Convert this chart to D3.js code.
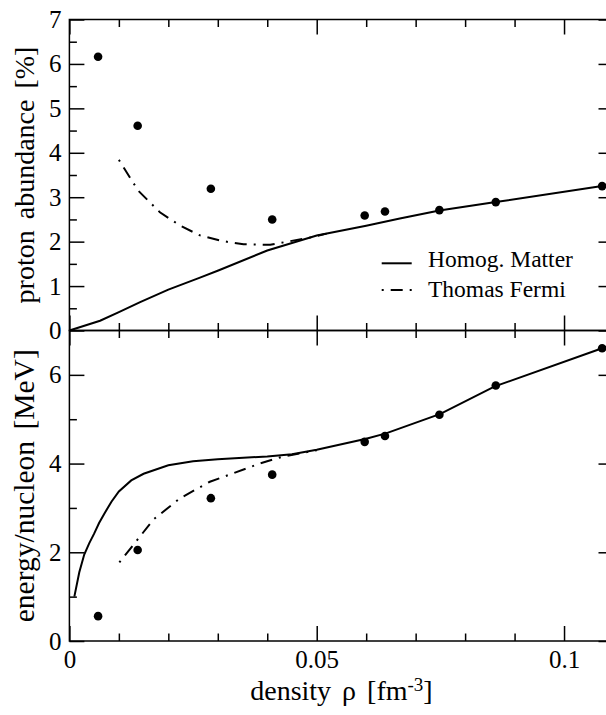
<!DOCTYPE html>
<html>
<head>
<meta charset="utf-8">
<script src="https://cdn.jsdelivr.net/npm/d3@7"></script>
<style>
  body { margin: 0; background: #fff; }
  svg text { font-family: "Liberation Serif", "Times New Roman", Times, serif; fill: #000; }
</style>
</head>
<body>
<svg id="chart" width="606" height="715"></svg>
<script>

// densities of the cluster points (both panels)
const dotRho = [0.0058, 0.0138, 0.0286, 0.041, 0.0597, 0.0638, 0.0748, 0.0862, 0.1077];
const dotAbundance = [6.16, 4.61, 3.19, 2.50, 2.59, 2.68, 2.71, 2.89, 3.25];
const dotEnergy = [0.56, 2.05, 3.22, 3.75, 4.49, 4.62, 5.10, 5.76, 6.60];

// upper panel: proton abundance [%]
const homogTopRho = [0, 0.0062, 0.0099, 0.0143, 0.02, 0.0264, 0.0301, 0.04, 0.05, 0.06, 0.0668, 0.0748, 0.0862, 0.1077, 0.11];
const homogTopVal = [0, 0.22, 0.41, 0.64, 0.92, 1.19, 1.35, 1.80, 2.14, 2.36, 2.52, 2.70, 2.89, 3.25, 3.29];
const tfTopRho = [0.01, 0.0139, 0.0183, 0.0224, 0.0264, 0.0311, 0.0352, 0.0406, 0.0446, 0.0486, 0.052];
const tfTopVal = [3.84, 3.15, 2.66, 2.36, 2.14, 2.01, 1.94, 1.93, 2.01, 2.09, 2.18];

// lower panel: energy/nucleon [MeV]
const homogBotRho = [0.001, 0.002, 0.003, 0.004, 0.005, 0.006, 0.007, 0.0085, 0.01, 0.0125, 0.015, 0.02, 0.025, 0.03, 0.04, 0.045, 0.05, 0.06, 0.064, 0.075, 0.086, 0.1077, 0.11];
const homogBotVal = [1.0, 1.55, 1.95, 2.2, 2.42, 2.66, 2.86, 3.14, 3.37, 3.62, 3.77, 3.96, 4.05, 4.10, 4.16, 4.21, 4.31, 4.56, 4.68, 5.12, 5.74, 6.60, 6.70];
const tfBotRho = [0.0101, 0.0138, 0.017, 0.0224, 0.0284, 0.0331, 0.0385, 0.0432, 0.05];
const tfBotVal = [1.77, 2.29, 2.74, 3.22, 3.59, 3.78, 4.0, 4.16, 4.30];

// ticks
const xTicks = [0, 0.05, 0.1];
const xTickLabels = ["0", "0.05", "0.1"];
const xMinorTicks = [0.01, 0.02, 0.03, 0.04, 0.06, 0.07, 0.08, 0.09];
const topYTicks = [0, 1, 2, 3, 4, 5, 6, 7];
const topYMinor = [0.5, 1.5, 2.5, 3.5, 4.5, 5.5, 6.5];
const botYTicks = [0, 2, 4, 6];
const botYMinor = [1, 3, 5];

const legendNames = ["Homog. Matter", "Thomas Fermi"];

const zip = (xs, ys) => xs.map((x, i) => [x, ys[i]]);

const svg = d3.select("#chart");

const left = 69.4, right = 613.5;
const x = d3.scaleLinear().domain([0, 0.11]).range([left, right]);
const yTop = d3.scaleLinear().domain([0, 7]).range([330.5, 19.5]);
const yBot = d3.scaleLinear().domain([0, 7]).range([641, 330.5]);

const MAJOR = 15, MINOR = 7.5;
const dashDot = "2,7,12,7";
const serif = "'Liberation Serif', 'Times New Roman', Times, serif";

/*
 * axes: ticks point inward on all four sides
 */
function frame(y, yTicks, yMinor, showX) {
  const top = y.range()[1], bottom = y.range()[0];

  const g = svg.append("g");

  const addAxis = (axis, tf) => {
    const a = g.append("g").attr("transform", tf).call(axis);
    a.attr("font-family", serif).attr("font-size", 25);
    a.select(".domain").remove();
    a.selectAll("line").attr("stroke", "#000").attr("stroke-width", 1.5);
    a.selectAll("text").attr("fill", "#000");
    return a;
  };

  // left
  addAxis(d3.axisLeft(y).tickValues(yTicks).tickSize(-MAJOR).tickPadding(8).tickFormat(d3.format("d")),
    `translate(${left},0)`);
  addAxis(d3.axisLeft(y).tickValues(yMinor).tickSize(-MINOR).tickFormat(""), `translate(${left},0)`);
  // right
  addAxis(d3.axisRight(y).tickValues(yTicks).tickSize(-MAJOR).tickFormat(""), `translate(${right},0)`);
  addAxis(d3.axisRight(y).tickValues(yMinor).tickSize(-MINOR).tickFormat(""), `translate(${right},0)`);
  // top
  addAxis(d3.axisTop(x).tickValues(xTicks).tickSize(-MAJOR).tickFormat(""), `translate(0,${top})`);
  addAxis(d3.axisTop(x).tickValues(xMinorTicks).tickSize(-MINOR).tickFormat(""), `translate(0,${top})`);
  // bottom
  addAxis(d3.axisBottom(x).tickValues(xTicks).tickSize(-MAJOR).tickPadding(9)
      .tickFormat((d, i) => showX ? xTickLabels[i] : ""), `translate(0,${bottom})`);
  addAxis(d3.axisBottom(x).tickValues(xMinorTicks).tickSize(-MINOR).tickFormat(""), `translate(0,${bottom})`);

  g.append("rect")
    .attr("x", left).attr("y", top)
    .attr("width", right - left).attr("height", bottom - top)
    .attr("fill", "none").attr("stroke", "#000").attr("stroke-width", 1.5);
}

frame(yTop, topYTicks, topYMinor, false);
frame(yBot, botYTicks, botYMinor, true);

/*
 * curves and dots
 */
function panel(y, homog, tf, dots) {
  const line = d3.line().x(d => x(d[0])).y(d => y(d[1]));
  const g = svg.append("g");

  g.append("path").datum(homog)
    .attr("d", line).attr("fill", "none")
    .attr("stroke", "#000").attr("stroke-width", 2);

  g.append("path").datum(tf)
    .attr("d", line).attr("fill", "none")
    .attr("stroke", "#000").attr("stroke-width", 2)
    .attr("stroke-dasharray", dashDot);

  g.selectAll("circle").data(dots).enter().append("circle")
    .attr("cx", d => x(d[0])).attr("cy", d => y(d[1]))
    .attr("r", 4.3).attr("fill", "#000");
}

panel(yTop, zip(homogTopRho, homogTopVal), zip(tfTopRho, tfTopVal), zip(dotRho, dotAbundance));
panel(yBot, zip(homogBotRho, homogBotVal), zip(tfBotRho, tfBotVal), zip(dotRho, dotEnergy));

/*
 * legend
 */
const legend = svg.append("g").attr("transform", "translate(381.7,263.3)");
legendNames.forEach((name, i) => {
  const row = legend.append("g").attr("transform", `translate(0,${i * 26.7})`);
  row.append("line")
    .attr("x1", 0).attr("x2", 30).attr("y1", 0).attr("y2", 0)
    .attr("stroke", "#000").attr("stroke-width", 2)
    .attr("stroke-dasharray", i === 1 ? dashDot : null);
  row.append("text")
    .attr("x", 46.3).attr("y", 4 + (i === 1 ? 2.7 : 0))
    .attr("font-family", serif)
    .attr("font-size", 23.5)
    .text(name);
});

/*
 * axis titles
 */
svg.append("text")
  .attr("transform", `translate(34,${(yTop.range()[0] + yTop.range()[1]) / 2}) rotate(-90)`)
  .attr("text-anchor", "middle")
  .attr("font-family", serif)
  .attr("font-size", 28)
  .attr("word-spacing", 4)
  .text("proton abundance [%]");

svg.append("text")
  .attr("transform", `translate(34,${(yBot.range()[0] + yBot.range()[1]) / 2}) rotate(-90)`)
  .attr("text-anchor", "middle")
  .attr("font-family", serif)
  .attr("font-size", 29.5)
  .attr("word-spacing", 4)
  .text("energy/nucleon [MeV]");

const xt = svg.append("text")
  .attr("x", (left + right) / 2)
  .attr("y", 700)
  .attr("text-anchor", "middle")
  .attr("font-family", serif)
  .attr("font-size", 28)
  .attr("word-spacing", 4);
xt.append("tspan").text("density ρ [fm");
xt.append("tspan").attr("dy", -9).attr("font-size", 19).text("-3");
xt.append("tspan").attr("dy", 9).text("]");

</script>
</body>
</html>
